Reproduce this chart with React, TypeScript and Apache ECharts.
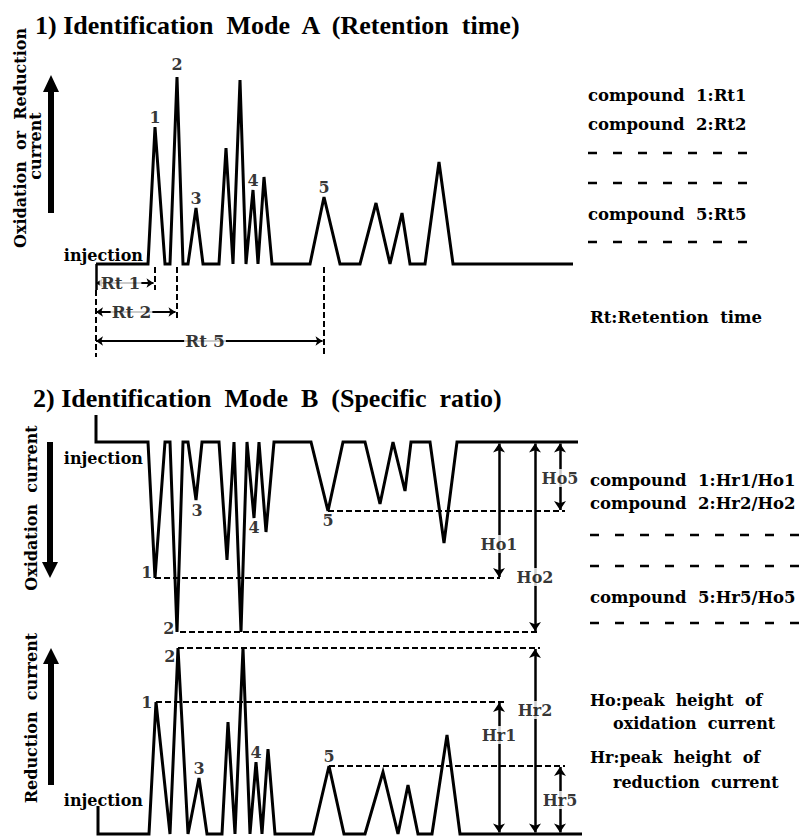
import React, { useEffect, useRef } from "react";
import * as echarts from "echarts";

// ---------- DATA (time in arbitrary units, current in arbitrary units) ----------
// 1) Mode A: chromatogram, [time, current]
const modeATrace: number[][] = [
  [0, 0], [10.4, 0], [11.8, 68.5], [13.8, 0], [14.8, 0], [16.2, 93.5], [17.4, 0], [18.4, 0],
  [20, 28], [21.4, 0], [24.6, 0], [26, 58], [27.4, 0], [28.8, 92], [30, 0], [31.4, 37],
  [32.4, 0], [33.6, 43.5], [35.2, 0], [42.8, 0], [45.6, 33.5], [48.8, 0], [52.8, 0], [56, 30.5],
  [58.8, 0], [61.2, 25.5], [62.8, 0], [65.8, 0], [68.6, 51], [71.4, 0], [95.4, 0],
];
const modeAPeakIndex = [2, 5, 8, 15, 20];

// 2) Mode B: oxidation current (drawn downward)
const oxTrace: number[][] = [
  [0, -13.5], [0, 0], [10.4, 0], [11.8, 68], [13.8, 0], [14.8, 0], [16.2, 95], [17.4, 0],
  [18.4, 0], [20, 29], [21.2, 0], [24.6, 0], [26.2, 59], [27.6, 0], [29, 95], [30.2, 0],
  [31.6, 38], [32.6, 0], [34, 45], [35.6, 0], [43, 0], [46.4, 34.5], [49.4, 0], [53.8, 0],
  [56.8, 31], [59.4, 0], [61.8, 24.5], [63, 0], [66.8, 0], [69.6, 50.5], [72.2, 0], [96.4, 0],
];
const oxPeakIndex = [3, 6, 9, 16, 21];

// 2) Mode B: reduction current (drawn upward)
const redTrace: number[][] = [
  [0.4, 14], [0.4, 0], [10.6, 0], [12, 66], [14.8, 0], [16.4, 93], [18.4, 0], [20.6, 28],
  [22.2, 0], [25.2, 0], [26.4, 56], [27.8, 0], [29.4, 93], [30.8, 0], [32, 36], [33.2, 0],
  [34.4, 42.5], [35.8, 0], [43.4, 0], [46.6, 34], [49.6, 0], [53.8, 0], [57.4, 31], [60.4, 0],
  [62.4, 24.5], [64.4, 0], [67.2, 0], [70.2, 49.5], [72.8, 0], [97.2, 0],
];
const redPeakIndex = [3, 5, 7, 14, 19];

const peakNames = ["1", "2", "3", "4", "5"];
// compounds that are measured (index into peakNames)
const measuredPeaks = [0, 1, 4];
const rtNames = ["Rt 1", "Rt 2", "Rt 5"];
const hoNames = ["Ho1", "Ho2", "Ho5"];
const hrNames = ["Hr1", "Hr2", "Hr5"];

const titleA = "1) Identification  Mode  A  (Retention  time)";
const titleB = "2) Identification  Mode  B  (Specific  ratio)";
const legendA = ["compound  1:Rt1", "compound  2:Rt2", "compound  5:Rt5"];
const legendB = ["compound  1:Hr1/Ho1", "compound  2:Hr2/Ho2", "compound  5:Hr5/Ho5"];

// ---------- layout constants ----------
const FONT = "'DejaVu Serif', 'Liberation Serif', serif";
const TITLE_FONT = "'Liberation Serif', 'DejaVu Serif', serif";
const rtRows = [-9.5, -24, -38.5]; // vertical positions of Rt dimension rows (panel A units)
const heightArrowT = [80.6, 87.8, 92.8]; // time positions of Ho/Hr arrows
const hoLabelV = [51, 67.5, 18];
const hrLabelV = [49.5, 62, 17];

const BLACK = "#000";

function App() {
  const ref = useRef<HTMLDivElement>(null);
  useEffect(() => {
    if (!ref.current) return;
    const chart = echarts.init(ref.current, undefined, { renderer: "svg" });

    const lineSeries = (data: number[][], gi: number) => ({
      type: "line",
      xAxisIndex: gi,
      yAxisIndex: gi,
      data,
      symbol: "none",
      showSymbol: false,
      clip: false,
      silent: true,
      z: 3,
      lineStyle: { color: BLACK, width: 3, join: "miter", miterLimit: 4 },
    });

    const segSeries = (coords: number[][][], gi: number, dashed: boolean, arrows: boolean, size = 9, width = 2) => ({
      type: "lines",
      coordinateSystem: "cartesian2d",
      xAxisIndex: gi,
      yAxisIndex: gi,
      polyline: false,
      silent: true,
      z: 2,
      symbol: arrows ? ["arrow", "arrow"] : ["none", "none"],
      symbolSize: size,
      effect: { show: false },
      lineStyle: {
        color: BLACK,
        width,
        opacity: 1,
        curveness: 0,
        type: dashed ? [6, 3] : "solid",
      },
      itemStyle: { color: BLACK },
      data: coords.map((c) => ({ coords: c })),
    });

    const labelSeries = (items: any[], gi: number, z = 5) => ({
      type: "scatter",
      xAxisIndex: gi,
      yAxisIndex: gi,
      silent: true,
      clip: false,
      symbolSize: 1,
      itemStyle: { color: "rgba(0,0,0,0)" },
      z,
      label: {
        show: true,
        formatter: "{b}",
        color: BLACK,
        fontFamily: FONT,
        fontWeight: "bold",
        fontSize: 16,
      },
      data: items,
    });

    // ---- Panel A
    const aPeaks = modeAPeakIndex.map((i) => modeATrace[i]);
    const rtArrows = measuredPeaks.map((p, k) => [[0, rtRows[k]], [aPeaks[p][0] - 0.3, rtRows[k]]]);
    const rtVerticals = [
      [[0, -13], [0, rtRows[2] - 8]],
      ...measuredPeaks.map((p, k) => [[aPeaks[p][0], -1.5], [aPeaks[p][0], rtRows[k] - (k === 2 ? 8 : 3.5)]]),
    ];
    const injTick = [[[0, 0], [0, -13]]];
    const rtLabels = measuredPeaks.map((p, k) => ({
      name: rtNames[k],
      value: [aPeaks[p][0] / 2 - 1, rtRows[k]],
      label: { position: "inside", backgroundColor: "#fff", padding: [0, 1], fontSize: 17 },
    }));
    const aPeakLabels = aPeaks.map((pt, i) => ({
      name: peakNames[i],
      value: pt,
      label: { position: "top", distance: i === 1 ? 4 : 1 },
    }));

    // ---- Panel B oxidation
    const oPeaks = oxPeakIndex.map((i) => oxTrace[i]);
    const oGuides = measuredPeaks.map((p, k) => [
      [oPeaks[p][0] + (k === 1 ? 0.6 : 0), oPeaks[p][1]],
      [heightArrowT[k] + (k === 0 ? 0.2 : 1), oPeaks[p][1]],
    ]);
    const oArrows = measuredPeaks.map((p, k) => [[heightArrowT[k], 0.8], [heightArrowT[k], oPeaks[p][1] - 0.5]]);
    const oLabels = measuredPeaks.map((p, k) => ({
      name: hoNames[k],
      value: [heightArrowT[k], hoLabelV[k]],
      label: { position: "inside", backgroundColor: "#fff", padding: [1, 0], fontSize: 16 },
    }));
    const oPeakPos: any[] = [
      { position: "left", distance: 2, offset: [0, -6] },
      { position: "left", distance: 2, offset: [0, -4] },
      { position: "bottom", distance: 2, offset: [1, 0] },
      { position: "bottom", distance: 1 },
      { position: "bottom", distance: 1 },
    ];
    const oPeakLabels = oPeaks.map((pt, i) => ({ name: peakNames[i], value: pt, label: oPeakPos[i] }));

    // ---- Panel B reduction
    const rPeaks = redPeakIndex.map((i) => redTrace[i]);
    const rGuides = measuredPeaks.map((p, k) => [
      [rPeaks[p][0], rPeaks[p][1]],
      [heightArrowT[k] + 1, rPeaks[p][1]],
    ]);
    const rArrows = measuredPeaks.map((p, k) => [[heightArrowT[k], 0.8], [heightArrowT[k], rPeaks[p][1] - 0.5]]);
    const rLabels = measuredPeaks.map((p, k) => ({
      name: hrNames[k],
      value: [heightArrowT[k], hrLabelV[k]],
      label: { position: "inside", backgroundColor: "#fff", padding: [1, 0], fontSize: 16 },
    }));
    const rPeakPos: any[] = [
      { position: "left", distance: 3 },
      { position: "left", distance: 2, offset: [0, 8] },
      { position: "top", distance: 1 },
      { position: "top", distance: 1 },
      { position: "top", distance: 1 },
    ];
    const rPeakLabels = rPeaks.map((pt, i) => ({ name: peakNames[i], value: pt, label: rPeakPos[i] }));

    const txt = (text: string, x: number, y: number, size: number, extra: any = {}, family = FONT) => ({
      type: "text",
      x,
      y,
      silent: true,
      z: 10,
      ...extra,
      style: {
        text,
        fill: BLACK,
        font: `bold ${size}px ${family}`,
        align: extra.align || "left",
        verticalAlign: "middle",
      },
    });
    const dashRow = (y: number, x1: number, x2: number) => ({
      type: "line",
      silent: true,
      shape: { x1, y1: y, x2, y2: y },
      style: { stroke: BLACK, lineWidth: 2.5, lineDash: [9, 16] },
    });
    const bigArrow = (cx: number, tail: number, tip: number, headLen: number) => {
      const d = tip < tail ? 1 : -1; // up if tip above tail
      const hb = tip + d * headLen;
      return {
        type: "polygon",
        silent: true,
        shape: {
          points: [
            [cx - 3, tail], [cx - 3, hb], [cx - 8, hb], [cx, tip],
            [cx + 8, hb], [cx + 3, hb], [cx + 3, tail],
          ],
        },
        style: { fill: BLACK },
      };
    };

    const graphic: any[] = [
      txt(titleA, 35, 25, 26, {}, TITLE_FONT),
      txt(titleB, 33, 398, 26, {}, TITLE_FONT),
      // axis labels
      txt("Oxidation  or  Reduction", 20, 138, 16, { rotation: Math.PI / 2, align: "center" }),
      txt("current", 35, 146, 16, { rotation: Math.PI / 2, align: "center" }),
      txt("Oxidation  current", 31, 508, 16, { rotation: Math.PI / 2, align: "center" }),
      txt("Reduction  current", 31, 718, 16, { rotation: Math.PI / 2, align: "center" }),
      bigArrow(51, 213, 75, 17),
      bigArrow(50, 442, 578, 16),
      bigArrow(51, 785, 648, 16),
      txt("injection", 143, 255, 16, { align: "right" }),
      txt("injection", 143, 458, 16, { align: "right" }),
      txt("injection", 143, 800, 16, { align: "right" }),
      // legends A
      txt(legendA[0], 588, 95, 16.5),
      txt(legendA[1], 588, 124, 16.5),
      dashRow(153, 588, 755),
      dashRow(183, 588, 755),
      txt(legendA[2], 588, 214, 16.5),
      dashRow(242, 588, 755),
      txt("Rt:Retention  time", 590, 317, 16.5),
      // legends B
      txt(legendB[0], 590, 480, 16.5),
      txt(legendB[1], 590, 503, 16.5),
      dashRow(535, 590, 804),
      dashRow(566, 590, 804),
      txt(legendB[2], 590, 597, 16.5),
      dashRow(623, 590, 804),
      txt("Ho:peak  height  of", 590, 700, 16),
      txt("oxidation  current", 613, 723, 16),
      txt("Hr:peak  height  of", 590, 757, 16),
      txt("reduction  current", 613, 782, 16),
    ];

    chart.setOption({
      animation: false,
      backgroundColor: "#fff",
      grid: [
        { left: 96, top: 64, width: 490, height: 300 },
        { left: 96, top: 402, width: 490, height: 240 },
        { left: 96, top: 634, width: 490, height: 200 },
      ],
      xAxis: [0, 1, 2].map((i) => ({ type: "value", gridIndex: i, min: 0, max: 98, show: false })),
      yAxis: [
        { type: "value", gridIndex: 0, min: -50, max: 100, show: false },
        { type: "value", gridIndex: 1, min: -20, max: 100, inverse: true, show: false },
        { type: "value", gridIndex: 2, min: 0, max: 100, show: false },
      ],
      series: [
        lineSeries(modeATrace, 0),
        segSeries(rtArrows, 0, false, true, 7),
        segSeries(rtVerticals, 0, true, false),
        segSeries(injTick, 0, false, false, 9, 2.5),
        labelSeries(rtLabels, 0),
        labelSeries(aPeakLabels, 0),
        lineSeries(oxTrace, 1),
        segSeries(oGuides, 1, true, false),
        segSeries(oArrows, 1, false, true, 9, 2.5),
        labelSeries(oLabels, 1),
        labelSeries(oPeakLabels, 1),
        lineSeries(redTrace, 2),
        segSeries(rGuides, 2, true, false),
        segSeries(rArrows, 2, false, true, 9, 2.5),
        labelSeries(rLabels, 2),
        labelSeries(rPeakLabels, 2),
      ],
      graphic,
    });
    return () => chart.dispose();
  }, []);

  return (
    <div
      ref={ref}
      style={{ position: "fixed", left: 0, top: 0, width: 804, height: 836, background: "#fff" }}
    />
  );
}

export default App;
